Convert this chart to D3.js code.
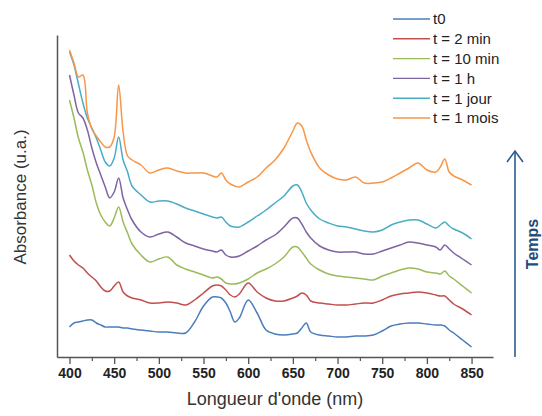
<!DOCTYPE html>
<html>
<head>
<meta charset="utf-8">
<script src="https://cdn.jsdelivr.net/npm/d3@7"></script>
<style>
  html, body { margin: 0; padding: 0; background: #fff; }
  svg { display: block; font-family: "Liberation Sans", Arial, sans-serif; }
</style>
</head>
<body>
<svg id="chart" width="542" height="416"></svg>
<script>
// ---- Data ----
const wavelengths = [400,405,410,415,420,425,430,435,440,445,450,455,460,465,470,480,490,500,510,520,530,540,550,560,565,570,575,580,585,590,600,610,620,630,640,650,655,660,665,670,680,690,700,710,720,730,740,750,760,770,780,790,800,810,815,820,825,830,840,850];

const seriesNames = ["t0", "t = 2 min", "t = 10 min", "t = 1 h", "t = 1 jour", "t = 1 mois"];
const seriesColors = ["#4a7ebb", "#c0504d", "#9bbb59", "#7f64a2", "#4bacc6", "#f79646"];

const t0 = [0.30,0.34,0.35,0.36,0.37,0.37,0.34,0.32,0.30,0.30,0.30,0.30,0.29,0.29,0.28,0.27,0.26,0.25,0.25,0.24,0.24,0.35,0.51,0.60,0.60,0.59,0.54,0.45,0.35,0.39,0.57,0.44,0.27,0.23,0.22,0.23,0.24,0.29,0.34,0.25,0.22,0.21,0.20,0.20,0.21,0.21,0.22,0.26,0.31,0.33,0.34,0.34,0.33,0.32,0.32,0.31,0.27,0.24,0.17,0.10];
const t2min = [1.02,0.96,0.92,0.89,0.84,0.80,0.76,0.70,0.66,0.66,0.71,0.75,0.65,0.61,0.59,0.57,0.54,0.54,0.55,0.54,0.52,0.57,0.64,0.71,0.72,0.71,0.67,0.62,0.60,0.63,0.74,0.65,0.59,0.56,0.56,0.59,0.61,0.64,0.62,0.56,0.54,0.53,0.52,0.52,0.53,0.54,0.54,0.57,0.61,0.63,0.64,0.65,0.64,0.62,0.61,0.61,0.57,0.53,0.48,0.42];
const t10min = [2.57,2.39,2.19,2.05,1.87,1.72,1.54,1.42,1.35,1.31,1.39,1.50,1.35,1.24,1.13,1.02,0.95,0.98,1.00,0.92,0.88,0.85,0.82,0.79,0.80,0.78,0.74,0.73,0.73,0.74,0.78,0.84,0.88,0.93,1.00,1.10,1.10,1.05,0.99,0.93,0.87,0.83,0.81,0.80,0.79,0.78,0.77,0.81,0.84,0.87,0.89,0.88,0.85,0.84,0.83,0.86,0.81,0.78,0.71,0.64];
const t1h = [2.82,2.62,2.44,2.39,2.27,2.09,1.94,1.82,1.70,1.59,1.65,1.79,1.59,1.47,1.37,1.25,1.20,1.23,1.25,1.20,1.14,1.11,1.08,1.06,1.05,1.07,1.02,1.00,1.00,1.01,1.06,1.11,1.17,1.22,1.30,1.39,1.39,1.33,1.25,1.19,1.11,1.07,1.05,1.05,1.05,1.03,1.03,1.06,1.09,1.12,1.15,1.14,1.12,1.10,1.07,1.12,1.08,1.04,0.98,0.92];
const t1jour = [3.05,2.92,2.73,2.54,2.39,2.29,2.19,2.07,1.95,1.91,1.99,2.20,1.97,1.85,1.71,1.62,1.55,1.56,1.56,1.53,1.49,1.46,1.43,1.40,1.39,1.40,1.35,1.31,1.30,1.30,1.35,1.41,1.47,1.54,1.61,1.71,1.72,1.65,1.54,1.47,1.38,1.34,1.31,1.30,1.28,1.26,1.25,1.27,1.32,1.35,1.37,1.37,1.33,1.29,1.32,1.35,1.31,1.28,1.24,1.18];
const t1mois = [3.07,2.94,2.80,2.82,2.44,2.28,2.21,2.15,2.10,2.10,2.20,2.72,2.25,2.01,1.97,1.92,1.84,1.87,1.89,1.86,1.84,1.84,1.84,1.81,1.80,1.84,1.77,1.73,1.71,1.70,1.75,1.80,1.89,1.97,2.09,2.26,2.34,2.31,2.17,2.05,1.89,1.82,1.78,1.77,1.80,1.74,1.74,1.75,1.79,1.84,1.89,1.94,1.87,1.85,1.90,1.98,1.85,1.81,1.77,1.72];

const seriesValues = [t0, t2min, t10min, t1h, t1jour, t1mois];
const xTickValues = [400,450,500,550,600,650,700,750,800,850];
const xMinorTicks = [425,475,525,575,625,675,725,775,825];

// ---- Layout ----
const svg = d3.select("#chart");
const x = d3.scaleLinear().domain([386, 874]).range([57, 493]);
const y = d3.scaleLinear().domain([0, 3.22]).range([357, 35]);
const axisColor = "#555";

// Series lines
const line = d3.line()
  .x((d, i) => x(wavelengths[i]))
  .y(d => y(d))
  .curve(d3.curveCatmullRom.alpha(0.5));

svg.append("g").selectAll("path")
  .data(seriesValues)
  .join("path")
  .attr("d", d => line(d))
  .attr("fill", "none")
  .attr("stroke", (d, i) => seriesColors[i])
  .attr("stroke-width", 1.5)
  .attr("stroke-linejoin", "round");

// X axis
const xAxis = svg.append("g").attr("transform", `translate(0,${y(0)})`)
  .call(d3.axisBottom(x).tickValues(xTickValues).tickSize(7).tickSizeOuter(0).tickPadding(4));
xAxis.select(".domain").attr("stroke", axisColor).attr("stroke-width", 1.5);
xAxis.selectAll(".tick line").attr("stroke", axisColor).attr("stroke-width", 1.3);
xAxis.selectAll(".tick text")
  .attr("fill", "#222").attr("font-size", 14).attr("font-weight", "bold")
  .attr("font-family", "Liberation Sans, Arial, sans-serif");

svg.append("g").attr("transform", `translate(0,${y(0)})`)
  .call(d3.axisBottom(x).tickValues(xMinorTicks).tickSize(4).tickFormat(""))
  .call(g => g.select(".domain").remove())
  .selectAll(".tick line").attr("stroke", axisColor).attr("stroke-width", 1.2);

// Y axis (line only)
const yAxis = svg.append("g").attr("transform", `translate(${x(386)},0)`)
  .call(d3.axisLeft(y).tickValues([]).tickSizeOuter(0));
yAxis.select(".domain").attr("stroke", axisColor).attr("stroke-width", 1.5);

// Axis titles
svg.append("text")
  .attr("x", 275).attr("y", 405)
  .attr("text-anchor", "middle")
  .attr("font-size", 18).attr("fill", "#333")
  .text("Longueur d'onde (nm)");

svg.append("text")
  .attr("transform", "translate(26,197) rotate(-90)")
  .attr("text-anchor", "middle")
  .attr("font-size", 17).attr("fill", "#333")
  .text("Absorbance (u.a.)");

// Legend
const legend = svg.append("g");
seriesNames.forEach((name, i) => {
  const cy = 19 + i * 19.8;
  legend.append("line")
    .attr("x1", 393).attr("x2", 430).attr("y1", cy).attr("y2", cy)
    .attr("stroke", seriesColors[i]).attr("stroke-width", 1.4);
  legend.append("text")
    .attr("x", 433).attr("y", cy).attr("dy", "0.36em")
    .attr("font-size", 15).attr("fill", "#222")
    .text(name);
});

// Time arrow
const arrowColor = "#2e5b8e";
svg.append("line")
  .attr("x1", 515).attr("x2", 515).attr("y1", 357).attr("y2", 151)
  .attr("stroke", arrowColor).attr("stroke-width", 1.6);
svg.append("path")
  .attr("d", "M507,162 L515,151 L523,162")
  .attr("fill", "none").attr("stroke", arrowColor).attr("stroke-width", 1.6);
svg.append("text")
  .attr("transform", "translate(538,244) rotate(-90)")
  .attr("text-anchor", "middle")
  .attr("font-size", 16).attr("font-weight", "bold").attr("fill", "#1f4e79")
  .text("Temps");
</script>
</body>
</html>
